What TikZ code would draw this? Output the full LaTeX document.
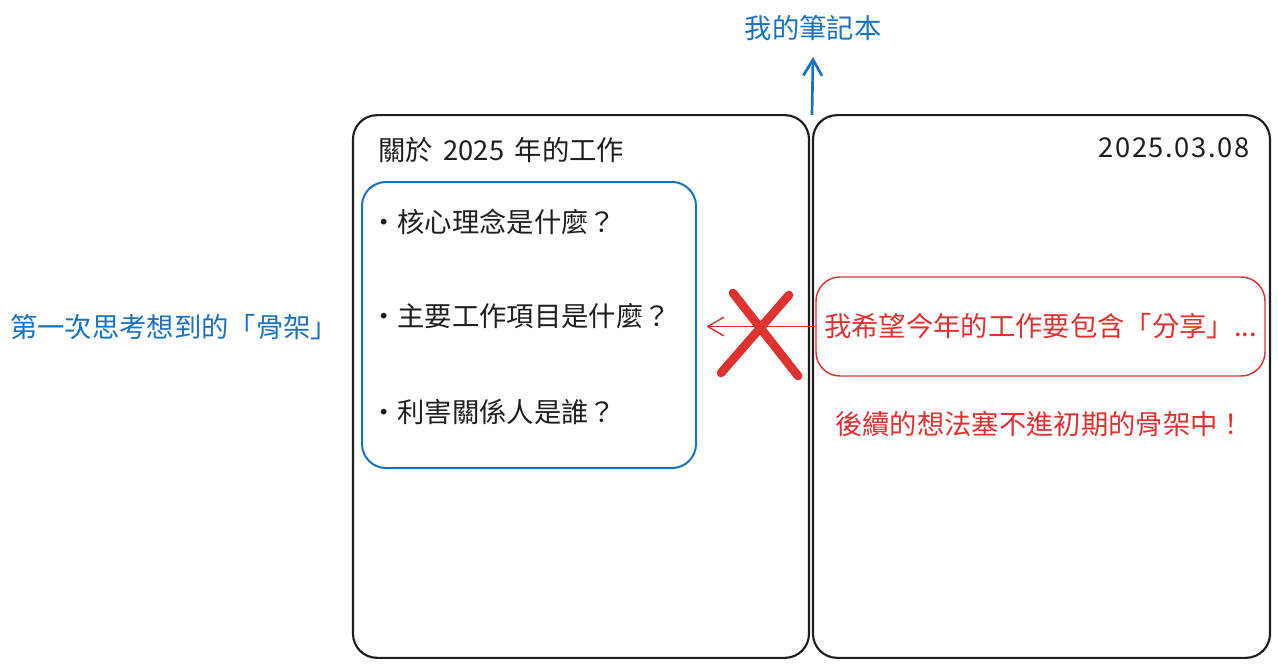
\documentclass[tikz,border=0pt]{standalone}
\usepackage{fontspec}
\setmainfont{Noto Sans CJK TC}
\usetikzlibrary{arrows.meta}
\definecolor{inkblue}{HTML}{1971C2}
\definecolor{inkred}{HTML}{E03131}
\definecolor{ink}{HTML}{1E1E1E}

\begin{document}
\begin{tikzpicture}[
  x=0.75pt, y=-0.75pt,
  font=\fontsize{20.5}{24}\selectfont,
  every node/.style={inner sep=0pt},
  page/.style={draw=ink, line width=1.6pt, rounded corners=18pt},
  frame/.style={draw=inkblue, line width=1.5pt, rounded corners=18pt},
  wish/.style={draw=inkred, line width=1.1pt, rounded corners=18pt},
  barb/.style={-{Straight Barb[length=12pt, width=14pt]}, line width=1.5pt},
  cross/.style={inkred, line width=6.5pt, line cap=round}
]
\useasboundingbox (0,0) rectangle (1278,667);
% the two pages of the notebook
\node[page, minimum width=342pt, minimum height=407pt] (leftpage) at (581,386.5) {};
\node[page, minimum width=342.75pt, minimum height=407pt] (rightpage) at (1041.5,386.5) {};
\coordinate (spine) at (812,115);
\node[text=inkblue] (book) at (813,28) {我的筆記本};
\coordinate (booktip) at (813,57);
\draw[barb, inkblue, line width=2pt] (spine) -- (booktip);
% left page
\node[anchor=west, text=ink] (title) at (378,150) {關於\ \,2025\ \,年的工作};
\node[frame, minimum width=250.5pt, minimum height=214.5pt] (skeleton) at (529,325) {};
\node[anchor=west, text=ink] (q1) at (370,222) {·核心理念是什麼？};
\node[anchor=west, text=ink] (q2) at (370,316) {·主要工作項目是什麼？};
\node[anchor=west, text=ink] (q3) at (370,412) {·利害關係人是誰？};
\node[anchor=west, text=inkblue] (first) at (10,327) {第一次思考想到的「骨架」};
% right page
\node[anchor=east, text=ink] (date) at (1250,148) {\addfontfeature{LetterSpace=6}2025.03.08};
\node[wish, minimum width=336.75pt, minimum height=74.25pt, text=inkred] (share) at (1040.5,326.5) {我希望今年的工作要包含「分享」...};
\node[text=inkred] (note) at (1040,424) {後續的想法塞不進初期的骨架中！};
\draw[barb, inkred, line width=1.1pt, shorten >=7pt] (share.west) -- (skeleton.east |- share.west);
% the crossing out
\coordinate (xa) at (733,293);
\coordinate (xb) at (798,376);
\coordinate (xc) at (789,295);
\coordinate (xd) at (721,373);
\draw[cross] (xa) -- (xb);
\draw[cross] (xc) -- (xd);
\end{tikzpicture}
\end{document}
